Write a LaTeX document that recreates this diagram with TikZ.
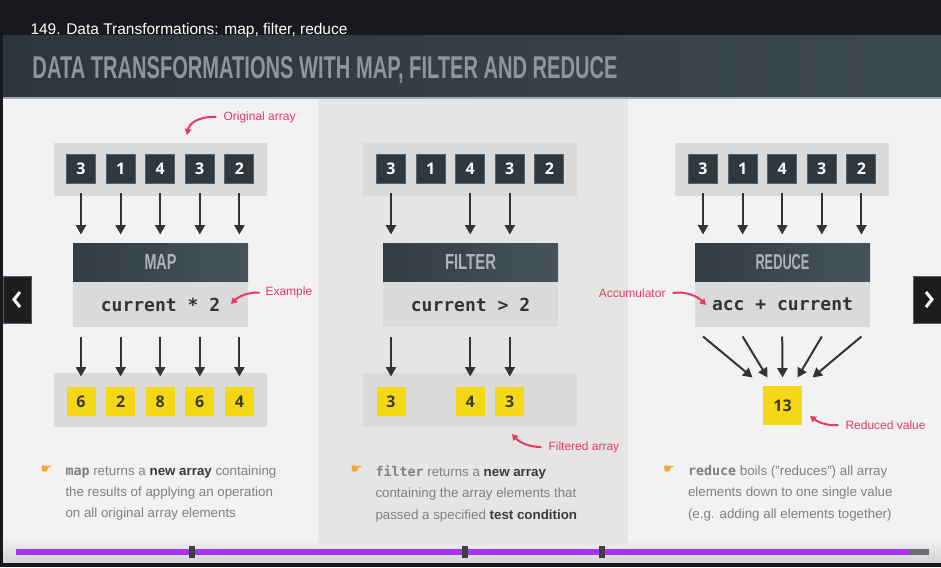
\documentclass[tikz,border=0pt]{standalone}
\usepackage{fontspec}
\usepackage{graphicx}
\setmainfont{Liberation Sans}
\newfontfamily\numfont{Open Sans}
\newfontfamily\codefont{DejaVu Sans Mono}
\newfontfamily\handfont{DejaVu Sans}
\usetikzlibrary{arrows.meta,calc,positioning}

\definecolor{topbar}{HTML}{18191C}
\definecolor{headleft}{HTML}{2C353C}
\definecolor{headright}{HTML}{3C4850}
\definecolor{titlegray}{HTML}{8F969B}
\definecolor{headline}{HTML}{A4AAB0}
\definecolor{bodylight}{HTML}{F2F1F4}
\definecolor{bodymid}{HTML}{E5E5E6}
\definecolor{bodyfoot}{HTML}{D3D3D5}
\definecolor{tray}{HTML}{DADADA}
\definecolor{sqdark}{HTML}{2E383E}
\definecolor{sqedge}{HTML}{59636A}
\definecolor{opleft}{HTML}{323D44}
\definecolor{opright}{HTML}{46535B}
\definecolor{optext}{HTML}{AEB3B6}
\definecolor{ylw}{HTML}{F5D815}
\definecolor{ydigit}{HTML}{3D3A22}
\definecolor{arrgray}{HTML}{333333}
\definecolor{codetext}{HTML}{333333}
\definecolor{notered}{HTML}{E8395E}
\definecolor{bodygray}{HTML}{808080}
\definecolor{bolddark}{HTML}{3A3A3A}
\definecolor{handorange}{HTML}{F2A735}
\definecolor{barpurple}{HTML}{A435F0}
\definecolor{bargray}{HTML}{6A6D71}
\definecolor{barmark}{HTML}{3D3D42}
\definecolor{navfill}{HTML}{1C1D1F}
\definecolor{navedge}{HTML}{5B5D60}

% condensed slide lettering, squeezed to the measured size
\newcommand{\squeezed}[3]{\resizebox{#1}{#2}{\bfseries #3}}
\newcommand{\mono}[1]{{\codefont\bfseries #1}}
\newcommand{\boldword}[1]{{\bfseries\color{bolddark}#1}}

\tikzset{every picture/.style={line width=0.75pt}}
\tikzset{
  insq/.style={fill=sqdark, draw=sqedge, line width=0.75pt, minimum size=21.75pt, inner sep=0pt,
    text=white, font=\numfont\bfseries\fontsize{12}{12}\selectfont},
  outsq/.style={fill=ylw, minimum size=21.75pt, inner sep=0pt,
    text=ydigit, font=\numfont\bfseries\fontsize{12}{12}\selectfont},
  opbox/.style={left color=opleft, right color=opright, minimum width=131.25pt, minimum height=28.5pt,
    inner sep=0pt, text=optext},
  codebox/.style={fill=tray, minimum width=131.25pt, minimum height=33.75pt, inner sep=0pt,
    text=codetext, font=\codefont\bfseries\fontsize{13.5}{13.5}\selectfont},
  flow/.style={draw=arrgray, line width=1.5pt, -{Triangle[width=7.5pt,length=7pt]}},
  note/.style={text=notered, font=\fontsize{9}{9}\selectfont, inner sep=0pt, anchor=west},
  pointer/.style={draw=notered, line width=1.5pt, -{Triangle[width=5pt,length=4.5pt]}},
  hand/.style={text=handorange, font=\handfont\fontsize{10}{10}\selectfont, inner sep=0pt},
  bullet/.style={text=bodygray, font=\fontsize{10}{16}\selectfont, align=left, anchor=north west, inner sep=0pt},
}

\begin{document}
\begin{tikzpicture}[x=0.75pt,y=0.75pt,yscale=-1,xscale=1]
\useasboundingbox (0,0) rectangle (941,567);

%Shape: player frame and slide body
\fill[topbar] (0,0) rectangle (941,567);
\fill[bodylight] (3,99) rectangle (941,562);
\fill[bodymid] (318,99) rectangle (628,545);
\shade[top color=bodylight, bottom color=bodyfoot] (3,538) rectangle (941,562);
\fill[bodymid] (318,538) rectangle (628,545);
%Shape: slide header
\shade[left color=headleft, right color=headright] (3,36) rectangle (941,97);
\fill[headline] (3,97) rectangle (941,99);

% Text Node
\node[anchor=base west, inner sep=0pt, text=white, font=\fontsize{11.6}{11.6}\selectfont] (lecture) at (30,34.5) {149. Data Transformations: map, filter, reduce};
% Text Node
\node[anchor=base west, inner sep=0pt, text=titlegray] (slidetitle) at (32,79) {\squeezed{438.75pt}{16.5pt}{DATA TRANSFORMATIONS WITH MAP, FILTER AND REDUCE}};

%Shape: trays behind the arrays
\fill[tray] (54,143) rectangle (267,196);
\fill[tray] (363,143) rectangle (577,196);
\fill[tray] (675,143) rectangle (889,196);
\fill[tray] (54,373) rectangle (267,427);
\fill[tray] (363,373) rectangle (577,427);

% input arrays
\foreach \v [count=\i] in {3,1,4,3,2} {
  \node[insq] (m\i) at ({81+39.6*(\i-1)},169) {\v};
  \node[insq] (f\i) at ({391+39.6*(\i-1)},169) {\v};
  \node[insq] (r\i) at ({703+39.6*(\i-1)},169) {\v};
}

% operation boxes
\node[opbox] (mapop) at (160.5,262) {\squeezed{24pt}{11.25pt}{MAP}};
\node[codebox, below=0pt of mapop] (mapcode) {current * 2};
\node[opbox] (filtop) at (470.5,262) {\squeezed{38.25pt}{11.25pt}{FILTER}};
\node[codebox, below=0pt of filtop] (filtcode) {current > 2};
\node[opbox] (redop) at (782.5,262) {\squeezed{40.5pt}{11.25pt}{REDUCE}};
\node[codebox, below=0pt of redop] (redcode) {acc + current};

% results
\foreach \v [count=\i] in {6,2,8,6,4}
  \node[outsq] (mo\i) at ({81+39.6*(\i-1)},401.5) {\v};
\node[outsq] (fo1) at (391,401.5) {3};
\node[outsq] (fo3) at (470.2,401.5) {4};
\node[outsq] (fo4) at (509.8,401.5) {3};
\node[outsq, minimum size=29.25pt] (total) at (782.5,405.5) {13};

% arrows into the operations
\foreach \i in {1,...,5} {
  \draw[flow, shorten <=7pt, shorten >=6pt] (m\i.south) -- (m\i.south |- mapop.north);
  \draw[flow, shorten <=7pt, shorten >=6pt] (r\i.south) -- (r\i.south |- redop.north);
  \draw[flow, shorten <=6.75pt, shorten >=7.5pt] (mapcode.south -| mo\i) -- (mo\i.north);
}
\foreach \i in {1,3,4} {
  \draw[flow, shorten <=7pt, shorten >=6pt] (f\i.south) -- (f\i.south |- filtop.north);
  \draw[flow, shorten <=6.75pt, shorten >=7.5pt] (filtcode.south -| fo\i) -- (fo\i.north);
}
\foreach \i/\dx in {1/-30,2/-15,3/0,4/15,5/30}
  \draw[flow] ($(redcode.south -| r\i)+(0,9)$) -- ($(total.north)+(\dx,-8)$);

% red notes
\node[note] (origlbl) at (223,117) {Original array};
\coordinate (origtip) at (187,135);
\draw[pointer] ([xshift=-5pt]origlbl.west) .. controls (198,116) and (189,124) .. (origtip);
\node[note] (exlbl) at (265,292.5) {Example};
\coordinate (extip) at (231,304);
\draw[pointer] ([xshift=-4pt]exlbl.west) .. controls (247,292) and (238,297) .. (extip);
\node[note, anchor=east] (acclbl) at (666,293) {Accumulator};
\coordinate (acctip) at (706,305);
\draw[pointer] ([xshift=5pt]acclbl.east) .. controls (686,291) and (697,296) .. (acctip);
\node[note] (filtlbl) at (548,447) {Filtered array};
\coordinate (filttip) at (512,434);
\draw[pointer] ([xshift=-5pt]filtlbl.west) .. controls (528,447) and (519,442) .. (filttip);
\node[note] (redlbl) at (845,425) {Reduced value};
\coordinate (redtip) at (810,416);
\draw[pointer] ([xshift=-5pt]redlbl.west) .. controls (826,426) and (818,422) .. (redtip);

% bullet notes
\node[hand] (maphand) at (46.5,470) {☛};
\node[bullet] (maptxt) at (65,465) {\mono{map} returns a \boldword{new array} containing\\the results of applying an operation\\on all original array elements};
\node[hand] (filthand) at (356.5,470) {☛};
\node[bullet] (filttxt) at (375,465) {\mono{filter} returns a \boldword{new array}\\containing the array elements that\\passed a specified \boldword{test condition}};
\node[hand] (redhand) at (669,470) {☛};
\node[bullet] (redtxt) at (687.5,465) {\mono{reduce} boils ("reduces") all array\\elements down to one single value\\(e.g. adding all elements together)};

%Shape: player buttons
\draw[fill=navfill, draw=navedge] (3,276) rectangle (31,323);
\draw[white, line width=2.25pt] (20,292) -- (14,299.5) -- (20,307);
\draw[fill=navfill, draw=navedge] (913,276) rectangle (942,323);
\draw[white, line width=2.25pt] (926,292) -- (932,299.5) -- (926,307);

%Shape: progress bar
\fill[barpurple] (16,549) rectangle (909,555);
\fill[bargray] (909,549) rectangle (929,555);
\foreach \mx in {189,462,599}
  \fill[barmark] (\mx,546) rectangle ++(6,12);

\end{tikzpicture}
\end{document}
